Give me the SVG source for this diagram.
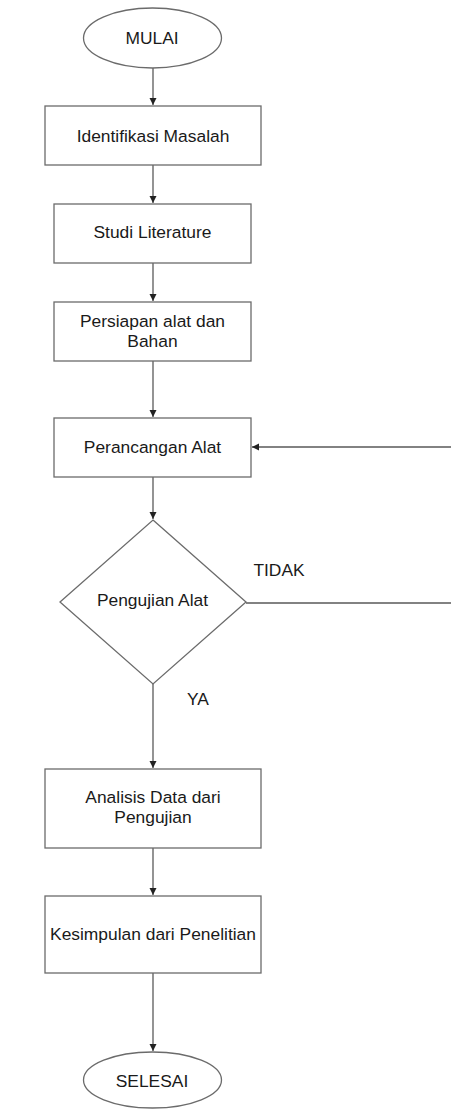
<svg xmlns="http://www.w3.org/2000/svg" width="451" height="1111" viewBox="0 0 451 1111">
<style>
.shape{fill:#ffffff;stroke:#6b6b6b;stroke-width:1.3}
.lbl{font-family:"Liberation Sans",Arial,sans-serif;font-size:17.4px;fill:#1a1a1a;text-anchor:middle}
.edge{fill:none;stroke:#5a5a5a;stroke-width:1.3}
</style>
<defs>
<marker id="ah" markerWidth="8" markerHeight="8" refX="7" refY="4" orient="auto" markerUnits="userSpaceOnUse">
<path d="M0,0.5 L7,4 L0,7.5 Z" fill="#222"/>
</marker>
</defs>
<rect width="451" height="1111" fill="#ffffff"/>
<g id="connectors">
<line class="edge" x1="153" y1="68" x2="153" y2="105" marker-end="url(#ah)"/>
<line class="edge" x1="153" y1="165" x2="153" y2="203" marker-end="url(#ah)"/>
<line class="edge" x1="153" y1="263" x2="153" y2="301" marker-end="url(#ah)"/>
<line class="edge" x1="153" y1="361" x2="153" y2="417" marker-end="url(#ah)"/>
<line class="edge" x1="153" y1="477" x2="153" y2="519" marker-end="url(#ah)"/>
<line class="edge" x1="153" y1="684" x2="153" y2="768" marker-end="url(#ah)"/>
<line class="edge" x1="153" y1="848" x2="153" y2="895" marker-end="url(#ah)"/>
<line class="edge" x1="153" y1="973" x2="153" y2="1051" marker-end="url(#ah)"/>
<path class="edge" d="M246,603 H456 V447 H252" marker-end="url(#ah)"/>
<text class="lbl" x="279" y="576">TIDAK</text>
<text class="lbl" x="198" y="705">YA</text>
</g>
<g id="mulai">
<ellipse class="shape" cx="152.5" cy="38" rx="69" ry="30"/>
<text class="lbl" x="152" y="43.5">MULAI</text>
</g>
<g id="identifikasi">
<rect class="shape" x="45" y="106" width="216" height="59"/>
<text class="lbl" x="153" y="142">Identifikasi Masalah</text>
</g>
<g id="studi">
<rect class="shape" x="54" y="204" width="197" height="59"/>
<text class="lbl" x="152.5" y="238">Studi Literature</text>
</g>
<g id="persiapan">
<rect class="shape" x="54" y="302" width="197" height="59"/>
<text class="lbl" x="152.5" y="327">Persiapan alat dan</text>
<text class="lbl" x="152.5" y="347">Bahan</text>
</g>
<g id="perancangan">
<rect class="shape" x="54" y="418" width="197" height="59"/>
<text class="lbl" x="152.5" y="453">Perancangan Alat</text>
</g>
<g id="pengujian">
<polygon class="shape" points="153,520 246,602 153,684 60,602"/>
<text class="lbl" x="152.5" y="606">Pengujian Alat</text>
</g>
<g id="analisis">
<rect class="shape" x="45" y="769" width="216" height="79"/>
<text class="lbl" x="153" y="803">Analisis Data dari</text>
<text class="lbl" x="153" y="823">Pengujian</text>
</g>
<g id="kesimpulan">
<rect class="shape" x="45" y="896" width="216" height="77"/>
<text class="lbl" x="153" y="940">Kesimpulan dari Penelitian</text>
</g>
<g id="selesai">
<ellipse class="shape" cx="152.5" cy="1080" rx="69" ry="28"/>
<text class="lbl" x="152" y="1087">SELESAI</text>
</g>
</svg>
